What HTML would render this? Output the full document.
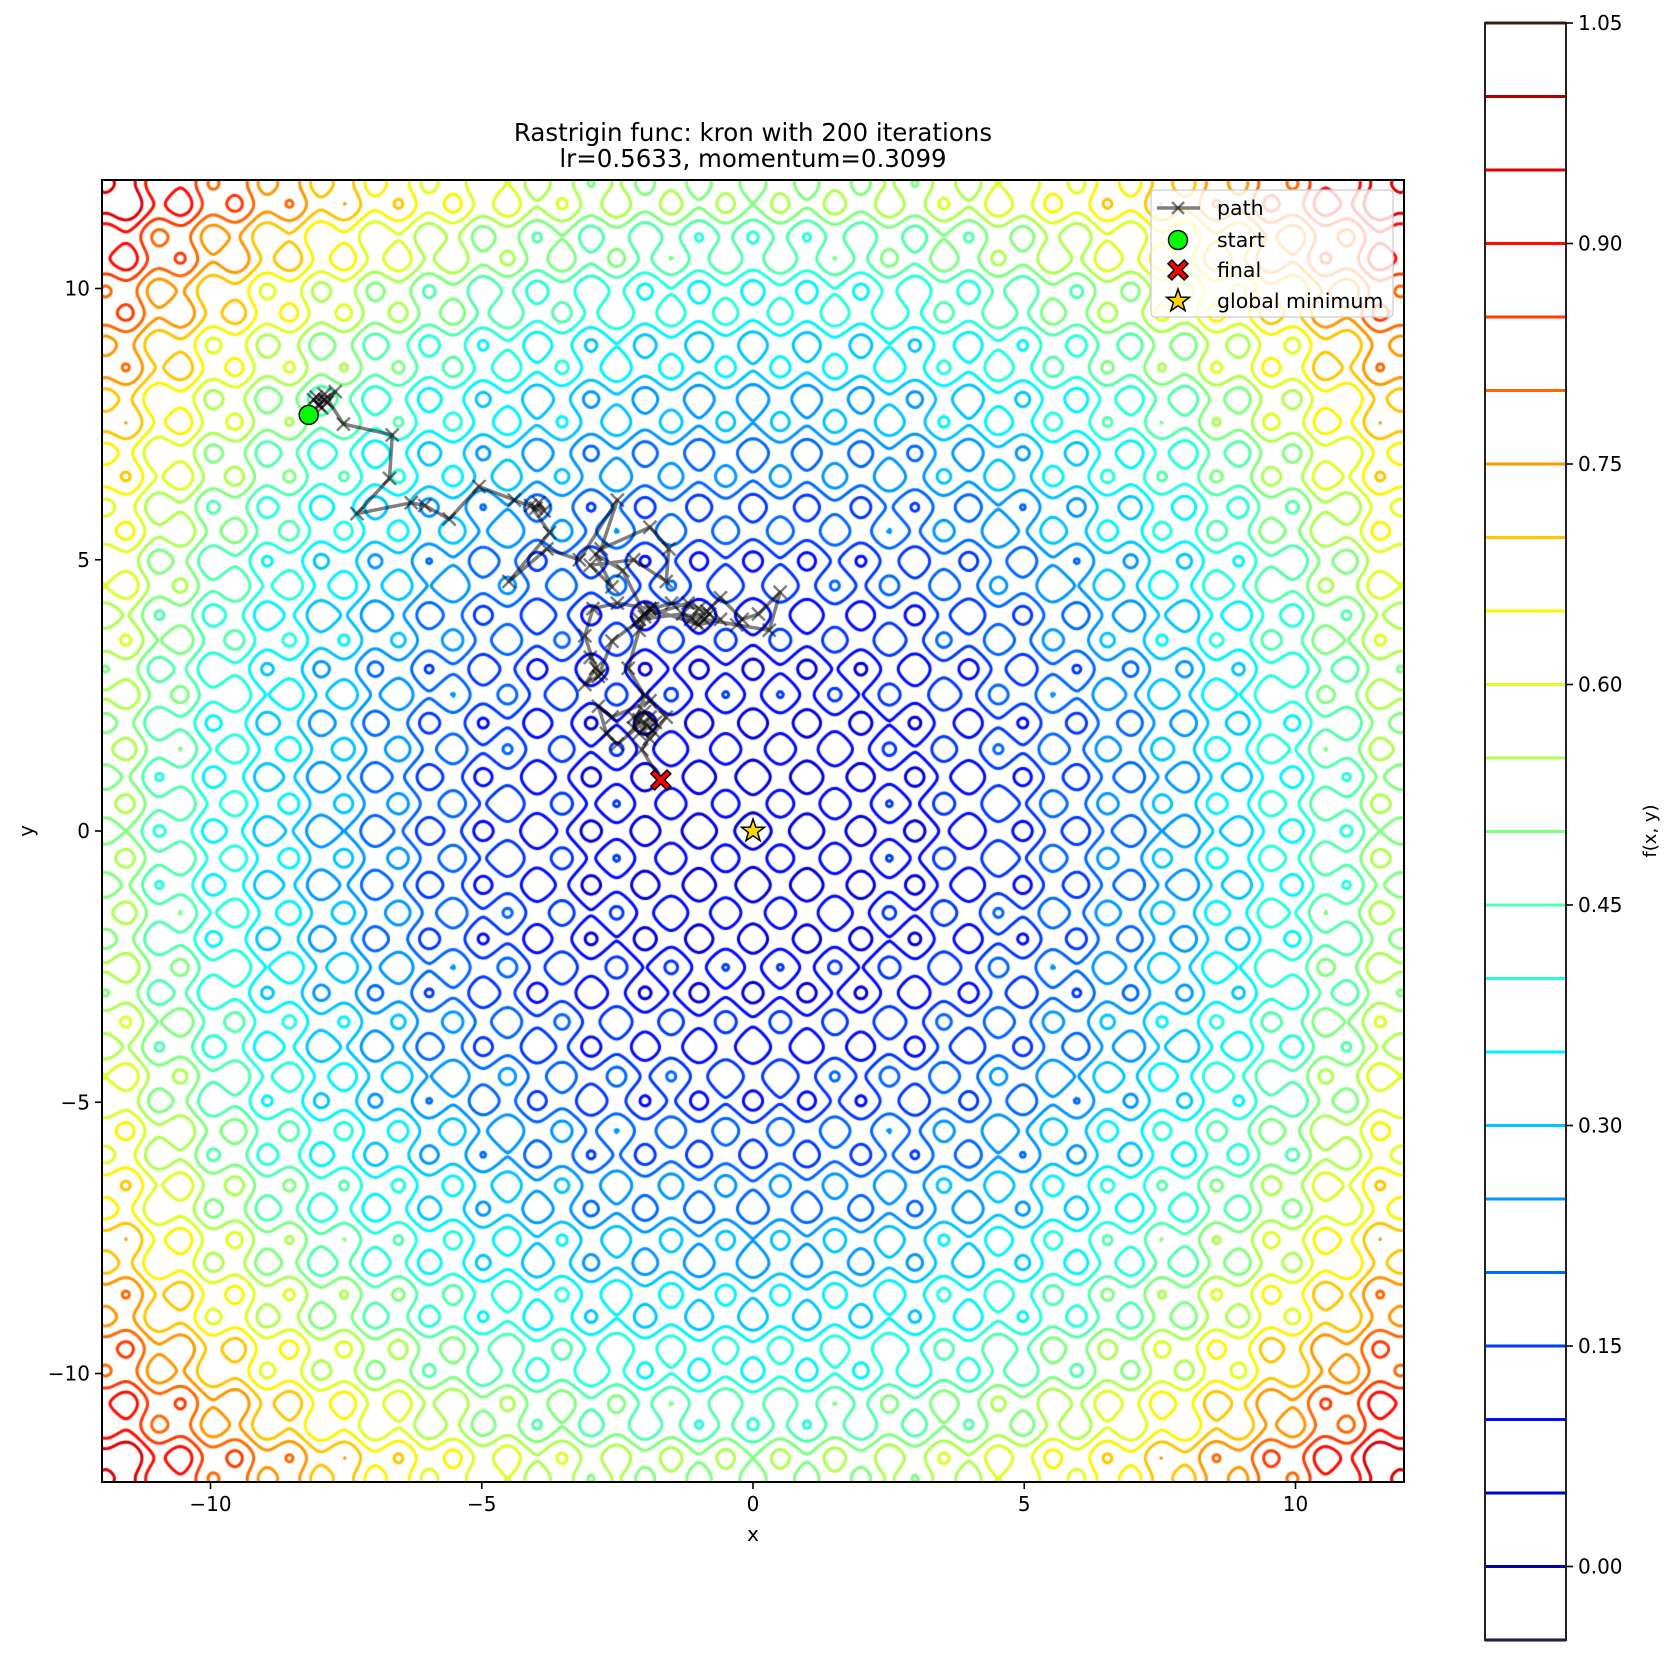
<!DOCTYPE html>
<html><head><meta charset="utf-8">
<style>
html,body{margin:0;padding:0;background:#fff;}
#wrap{position:relative;width:1670px;height:1658px;overflow:hidden;font-family:"DejaVu Sans","Liberation Sans",sans-serif;}
canvas,svg{position:absolute;left:0;top:0;}
</style></head>
<body>
<div id="wrap">
<canvas id="cv" width="1670" height="1658"></canvas>
<svg id="sv" width="1670" height="1658" xmlns="http://www.w3.org/2000/svg"></svg>
</div>
<script>
// ---- data ----
const levels = [-0.05,0,0.05,0.1,0.15,0.2,0.25,0.3,0.35,0.4,0.45,0.5,0.55,0.6,0.65,0.7,0.75,0.8,0.85,0.9,0.95,1.0,1.05];
const xTicks = [-10,-5,0,5,10];
const yTicks = [-10,-5,0,5,10];
const cbTicks = [0,0.15,0.30,0.45,0.60,0.75,0.90,1.05];
const pathX = [-8.19,-7.9,-8.0,-7.7,-7.85,-8.05,-7.95,-8.1,-7.9,-7.55,-6.65,-6.7,-7.3,-6.3,-6.05,-5.6,-5.05,-4.4,-4.0,-3.95,-3.85,-4.1,-3.75,-4.5,-3.8,-3.2,-2.5,-2.8,-1.9,-1.55,-1.6,-2.2,-3.0,-2.6,-2.9,-2.4,-2.0,-2.15,-1.85,-1.5,-1.0,-1.15,-0.85,-0.6,-0.2,0.1,0.5,0.3,-0.3,-0.9,-1.3,-2.1,-1.9,-2.5,-2.95,-3.1,-2.9,-3.1,-2.8,-3.0,-2.85,-2.6,-2.0,-1.2,-0.8,-1.05,-0.6,-1.0,-1.9,-2.1,-2.3,-2.0,-2.2,-2.0,-1.8,-2.1,-1.9,-2.5,-2.7,-2.85,-2.6,-1.9,-1.6,-1.9,-2.2,-1.95,-2.1,-1.85,-2.05,-1.7];
const pathY = [7.67,7.95,7.85,8.1,7.9,8.0,7.8,7.95,8.05,7.5,7.3,6.5,5.85,6.05,6.0,5.75,6.35,6.1,5.95,6.05,5.9,6.0,5.5,4.6,5.2,5.0,6.1,5.2,5.6,5.2,4.6,5.0,4.9,4.5,5.1,4.8,4.0,3.85,4.1,4.2,4.1,3.9,4.05,4.3,3.9,4.0,4.4,3.7,3.8,3.9,4.0,3.9,4.1,4.2,4.1,3.6,3.0,2.7,2.9,3.2,2.85,3.5,3.95,4.2,4.0,3.85,3.9,3.8,4.1,3.7,3.0,2.5,1.9,2.2,2.0,1.8,2.1,1.6,1.8,2.3,2.1,2.4,2.1,1.7,2.1,1.95,2.05,1.85,1.5,0.94];
const startPt = [-8.19,7.67];
const finalPt = [-1.7,0.94];
const globalMin = [0,0];

// ---- axes ----
const L=102,R=1404,T=180,B=1482, XMIN=-12,XMAX=12,YMIN=-12,YMAX=12;
const sx = v => L + (v-XMIN)/(XMAX-XMIN)*(R-L);
const sy = v => B - (v-YMIN)/(YMAX-YMIN)*(B-T);
const CBL=1485,CBR=1566,CBT=23,CBB=1640,CMIN=-0.05,CMAX=1.05;
const cy = v => CBB - (v-CMIN)/(CMAX-CMIN)*(CBB-CBT);
function jet(t){
  const c=x=>Math.round(255*Math.max(0,Math.min(1,x)));
  return `rgb(${c(1.5-Math.abs(4*t-3))},${c(1.5-Math.abs(4*t-2))},${c(1.5-Math.abs(4*t-1))})`;
}
const colOf = v => jet((v-CMIN)/(CMAX-CMIN));

// ---- function grid ----
const N=600;
const raw=[]; let zmax=-1e9, zmin=1e9;
for(let j=0;j<=N;j++){const row=[];const y=YMIN+(YMAX-YMIN)*j/N;
  for(let i=0;i<=N;i++){const x=XMIN+(XMAX-XMIN)*i/N;
    const f=20+x*x-10*Math.cos(2*Math.PI*x)+y*y-10*Math.cos(2*Math.PI*y);
    row.push(f); if(f>zmax)zmax=f; if(f<zmin)zmin=f;}
  raw.push(row);}
const Z=raw.map(r=>r.map(f=>(f-zmin)/(zmax-zmin)));

const cv=document.getElementById('cv'); const ctx=cv.getContext('2d');
ctx.save(); ctx.beginPath(); ctx.rect(L,T,R-L,B-T); ctx.clip();
ctx.lineWidth=3; ctx.lineCap='round'; ctx.lineJoin='round';
const gx=i=>sx(XMIN+(XMAX-XMIN)*i/N), gy=j=>sy(YMIN+(YMAX-YMIN)*j/N);
levels.forEach(lv=>{
  ctx.strokeStyle=colOf(lv); ctx.beginPath();
  for(let j=0;j<N;j++)for(let i=0;i<N;i++){
    const a=Z[j][i],b=Z[j][i+1],c=Z[j+1][i+1],d=Z[j+1][i];
    const pts=[];
    const e=(v1,v2,x1,y1,x2,y2)=>{const t=(lv-v1)/(v2-v1);pts.push([x1+(x2-x1)*t,y1+(y2-y1)*t]);};
    if((a>lv)!==(b>lv)) e(a,b,gx(i),gy(j),gx(i+1),gy(j));
    if((b>lv)!==(c>lv)) e(b,c,gx(i+1),gy(j),gx(i+1),gy(j+1));
    if((c>lv)!==(d>lv)) e(c,d,gx(i+1),gy(j+1),gx(i),gy(j+1));
    if((d>lv)!==(a>lv)) e(d,a,gx(i),gy(j+1),gx(i),gy(j));
    for(let k=0;k+1<pts.length;k+=2){ctx.moveTo(pts[k][0],pts[k][1]);ctx.lineTo(pts[k+1][0],pts[k+1][1]);}
  }
  ctx.stroke();
});
ctx.restore();

// ---- SVG overlay ----
const NS='http://www.w3.org/2000/svg'; const sv=document.getElementById('sv');
const FONT='"DejaVu Sans","Liberation Sans",sans-serif';
function mk(tag,attrs,parent){const el=document.createElementNS(NS,tag);for(const k in attrs)el.setAttribute(k,attrs[k]);(parent||sv).appendChild(el);return el;}
function txt(s,x,y,anchor,size,parent){const t=mk('text',{x:x,y:y,'text-anchor':anchor||'middle','font-size':size||20,'font-family':FONT,fill:'#000'},parent);t.textContent=s;return t;}
const fmtTick=v=>(v<0?'\u2212':'')+Math.abs(v);

const defs=mk('defs',{}); const cp=mk('clipPath',{id:'clipPlot'},defs); mk('rect',{x:L,y:T,width:R-L,height:B-T},cp);
const pg=mk('g',{'clip-path':'url(#clipPlot)'});


let d=''; pathX.forEach((x,i)=>{d+=(i?'L':'M')+sx(x).toFixed(1)+' '+sy(pathY[i]).toFixed(1);});
const pl=mk('path',{d:d,fill:'none',stroke:'#000','stroke-opacity':0.5,'stroke-width':3.5,'stroke-linejoin':'round'},pg);


function xMark(cx,cyy,s,parent){return mk('path',{d:`M${cx-s} ${cyy-s}L${cx+s} ${cyy+s}M${cx-s} ${cyy+s}L${cx+s} ${cyy-s}`,stroke:'#000','stroke-opacity':0.5,'stroke-width':2.5},parent);}
pathX.forEach((x,i)=>{const m=xMark(sx(x),sy(pathY[i]),6.5,pg);
  
  });

function star(cx,cyy,r){let p='';for(let k=0;k<10;k++){const rr=k%2?r*0.4:r;const a=-Math.PI/2+k*Math.PI/5;p+=(k?'L':'M')+(cx+rr*Math.cos(a)).toFixed(1)+' '+(cyy+rr*Math.sin(a)).toFixed(1);}return p+'Z';}
function bigX(cx,cyy,s){const w=s*0.38;const pts=[[-s,-s+w],[-s+w,-s],[0,-w],[s-w,-s],[s,-s+w],[w,0],[s,s-w],[s-w,s],[0,w],[-s+w,s],[-s,s-w],[-w,0]];return 'M'+pts.map(p=>(cx+p[0]).toFixed(1)+' '+(cyy+p[1]).toFixed(1)).join('L')+'Z';}
const sm=mk('circle',{cx:sx(startPt[0]),cy:sy(startPt[1]),r:9.5,fill:'#00ff00',stroke:'#000','stroke-width':1.5});


const fm=mk('path',{d:bigX(sx(finalPt[0]),sy(finalPt[1]),10),fill:'#ff0000',stroke:'#000','stroke-width':1.5});


const gm=mk('path',{d:star(sx(globalMin[0]),sy(globalMin[1]),12),fill:'#ffd700',stroke:'#000','stroke-width':1.5});



const fr=mk('rect',{x:L,y:T,width:R-L,height:B-T,fill:'none',stroke:'#000','stroke-width':2});


xTicks.forEach(v=>{mk('line',{x1:sx(v),x2:sx(v),y1:B,y2:B+7,stroke:'#000','stroke-width':1.6});
  const t=txt(fmtTick(v),sx(v),B+29,'middle',20);
  
  });
yTicks.forEach(v=>{mk('line',{x1:L-7,x2:L,y1:sy(v),y2:sy(v),stroke:'#000','stroke-width':1.6});
  const t=txt(fmtTick(v),L-12,sy(v)+7,'end',20);
  
  });
let t=txt('x',sx(0),1541,'middle',20);  
t=txt('y',0,0,'middle',20); t.setAttribute('transform','translate(33,831) rotate(-90)');
 
t=txt('Rastrigin func: kron with 200 iterations',(L+R)/2,141,'middle',24.5);
 
t=txt('lr=0.5633, momentum=0.3099',(L+R)/2,167,'middle',24.5);
 

const lg=mk('g',{});


mk('rect',{x:1151,y:190,width:242,height:127,rx:4,fill:'#fff','fill-opacity':0.8,stroke:'#ccc','stroke-width':1.2},lg);
mk('line',{x1:1157,x2:1200,y1:208,y2:208,stroke:'#000','stroke-opacity':0.5,'stroke-width':3.5},lg);
xMark(1178,208,6,lg);
mk('circle',{cx:1178,cy:240,r:9.5,fill:'#00ff00',stroke:'#000','stroke-width':1.5},lg);
mk('path',{d:bigX(1178,270,10),fill:'#ff0000',stroke:'#000','stroke-width':1.5},lg);
mk('path',{d:star(1178,301,12),fill:'#ffd700',stroke:'#000','stroke-width':1.5},lg);
[['path',208],['start',240],['final',270],['global minimum',301]].forEach(e=>{const tt=txt(e[0],1217,e[1]+7,'start',20.5,lg);
  
  });

const cb=mk('g',{});


levels.forEach(v=>{const ln=mk('line',{x1:CBL,x2:CBR,y1:cy(v),y2:cy(v),stroke:colOf(v),'stroke-width':3},cb);
  
  });
mk('rect',{x:CBL,y:CBT,width:CBR-CBL,height:CBB-CBT,fill:'none',stroke:'#222','stroke-width':2},cb);
cbTicks.forEach(v=>{mk('line',{x1:CBR,x2:CBR+7,y1:cy(v),y2:cy(v),stroke:'#000','stroke-width':1.6},cb);
  const tt=txt(v.toFixed(2),CBR+12,cy(v)+7,'start',20,cb);
  
  });
t=txt('f(x, y)',0,0,'middle',18); t.setAttribute('transform','translate(1656,831) rotate(-90)');
 
</script>
</body></html>
